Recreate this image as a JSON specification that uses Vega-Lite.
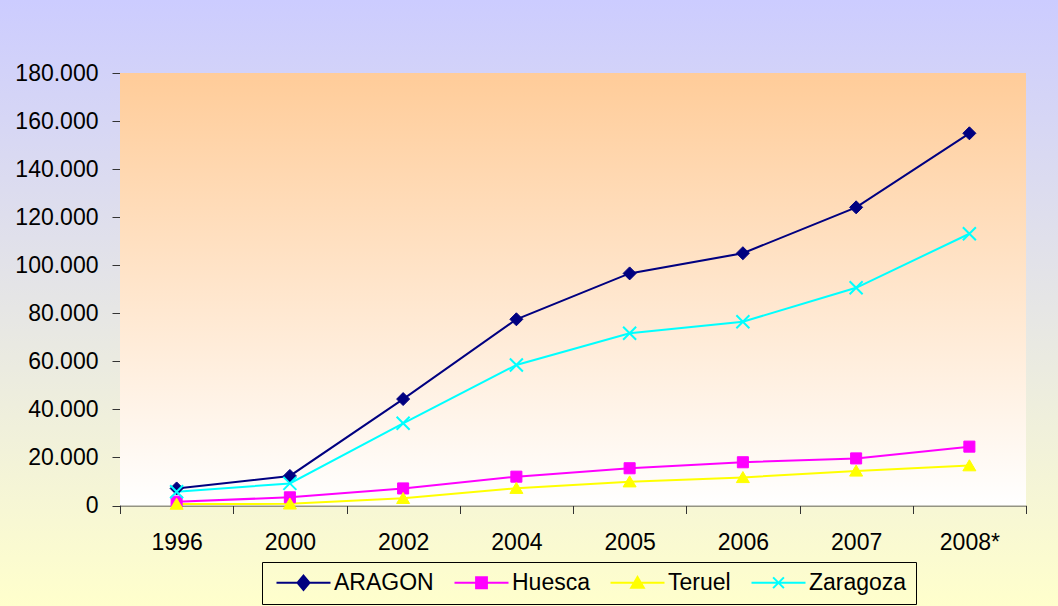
{
  "$schema": "https://vega.github.io/schema/vega-lite/v6.json",
  "width": 1058,
  "height": 606,
  "autosize": {"type": "none"},
  "padding": 0,
  "background": "#E6E6E6",
  "config": {
    "view": {
      "stroke": null,
      "fill": {"gradient": "linear", "x1": 0, "y1": 0, "x2": 0, "y2": 1,
        "stops": [{"offset": 0, "color": "#CCCCFF"}, {"offset": 1, "color": "#FFFFCC"}]}
    },
    "font": "Liberation Sans",
    "legend": {"orient": "none", "legendX": 262, "legendY": 562, "direction": "horizontal", "columns": 4, "title": null,
      "strokeColor": "#000000", "padding": 9, "columnPadding": 15, "labelFontSize": 23, "labelFont": "Liberation Sans",
      "labelColor": "#000000", "symbolSize": 144, "labelOffset": 40, "symbolStrokeWidth": 2, "symbolOpacity": 1, "labelLimit": 0}
  },
  "data": {"values": [
    {"year": "1996", "series": "ARAGON", "value": 7100},
    {"year": "2000", "series": "ARAGON", "value": 12300},
    {"year": "2002", "series": "ARAGON", "value": 44300},
    {"year": "2004", "series": "ARAGON", "value": 77500},
    {"year": "2005", "series": "ARAGON", "value": 96600},
    {"year": "2006", "series": "ARAGON", "value": 105000},
    {"year": "2007", "series": "ARAGON", "value": 124100},
    {"year": "2008*", "series": "ARAGON", "value": 154900},
    {"year": "1996", "series": "Huesca", "value": 1600},
    {"year": "2000", "series": "Huesca", "value": 3400},
    {"year": "2002", "series": "Huesca", "value": 7100},
    {"year": "2004", "series": "Huesca", "value": 12000},
    {"year": "2005", "series": "Huesca", "value": 15500},
    {"year": "2006", "series": "Huesca", "value": 18000},
    {"year": "2007", "series": "Huesca", "value": 19600},
    {"year": "2008*", "series": "Huesca", "value": 24500},
    {"year": "1996", "series": "Teruel", "value": 600},
    {"year": "2000", "series": "Teruel", "value": 700},
    {"year": "2002", "series": "Teruel", "value": 3000},
    {"year": "2004", "series": "Teruel", "value": 7200},
    {"year": "2005", "series": "Teruel", "value": 9900},
    {"year": "2006", "series": "Teruel", "value": 11700},
    {"year": "2007", "series": "Teruel", "value": 14400},
    {"year": "2008*", "series": "Teruel", "value": 16600},
    {"year": "1996", "series": "Zaragoza", "value": 5700},
    {"year": "2000", "series": "Zaragoza", "value": 9200},
    {"year": "2002", "series": "Zaragoza", "value": 34200},
    {"year": "2004", "series": "Zaragoza", "value": 58500},
    {"year": "2005", "series": "Zaragoza", "value": 71700},
    {"year": "2006", "series": "Zaragoza", "value": 76500},
    {"year": "2007", "series": "Zaragoza", "value": 90600},
    {"year": "2008*", "series": "Zaragoza", "value": 113100}
  ]},
  "resolve": {"scale": {"x": "independent"}, "axis": {"x": "independent"}},
  "layer": [
    {
      "data": {"values": [{"area": "plot"}]},
      "mark": {"type": "rect",
        "fill": {"gradient": "linear", "x1": 0, "y1": 0, "x2": 0, "y2": 1,
          "stops": [{"offset": 0, "color": "#FFCC99"}, {"offset": 1, "color": "#FFFFFF"}]}},
      "encoding": {
        "x": {"datum": 0, "type": "quantitative", "scale": {"domain": [0, 1], "range": [120, 1026], "nice": false, "zero": false}, "axis": null},
        "x2": {"datum": 1},
        "y": {"datum": 0, "type": "quantitative",
          "axis": {"title": null, "orient": "left", "offset": -120,
            "values": [0, 20000, 40000, 60000, 80000, 100000, 120000, 140000, 160000, 180000],
            "labelExpr": "replace(format(datum.value, ','), ',', '.')",
            "tickSize": 8, "labelPadding": 14, "labelFontSize": 23, "labelFont": "Liberation Sans", "labelColor": "#000000",
            "domainColor": "#333333", "tickColor": "#333333", "grid": false}},
        "y2": {"datum": 180000}
      }
    },
    {
      "encoding": {
        "x": {"field": "year", "type": "nominal", "sort": null,
          "scale": {"type": "band", "range": [120, 1026], "paddingInner": 0, "paddingOuter": 0},
          "axis": {"title": null, "orient": "bottom", "offset": -100.5, "labelAngle": 0, "tickBand": "extent",
            "tickSize": 8, "labelPadding": 18, "labelFontSize": 23, "labelFont": "Liberation Sans", "labelColor": "#000000",
            "domainColor": "#333333", "tickColor": "#333333", "grid": false}},
        "y": {"field": "value", "type": "quantitative",
          "scale": {"domain": [0, 180000], "range": [505.5, 73], "nice": false},
          "axis": {"title": null, "orient": "left", "offset": -120,
            "values": [0, 20000, 40000, 60000, 80000, 100000, 120000, 140000, 160000, 180000],
            "labelExpr": "replace(format(datum.value, ','), ',', '.')",
            "tickSize": 8, "labelPadding": 14, "labelFontSize": 23, "labelFont": "Liberation Sans", "labelColor": "#000000",
            "domainColor": "#333333", "tickColor": "#333333", "grid": false}}
      },
      "layer": [
        {
          "mark": {"type": "line", "strokeWidth": 2},
          "encoding": {
            "stroke": {"field": "series", "type": "nominal",
              "scale": {"domain": ["ARAGON", "Huesca", "Teruel", "Zaragoza"], "range": ["#000080", "#FF00FF", "#FFFF00", "#00FFFF"]}}
          }
        },
        {
          "transform": [{"filter": "datum.series === 'ARAGON'"}],
          "mark": {"type": "point", "filled": true, "size": 169, "strokeWidth": 1, "opacity": 1, "shape": "M0,-1L1,0L0,1L-1,0Z", "fill": "#000080", "stroke": "#000080"}
        },
        {
          "transform": [{"filter": "datum.series === 'Huesca'"}],
          "mark": {"type": "point", "filled": true, "size": 169, "strokeWidth": 1, "opacity": 1, "shape": "M-0.85,-0.85H0.85V0.85H-0.85Z", "fill": "#FF00FF", "stroke": "#FF00FF"}
        },
        {
          "transform": [{"filter": "datum.series === 'Teruel'"}],
          "mark": {"type": "point", "filled": true, "size": 169, "strokeWidth": 1, "opacity": 1, "shape": "M0,-0.9L1,0.8H-1Z", "fill": "#FFFF00", "stroke": "#FFFF00"}
        },
        {
          "transform": [{"filter": "datum.series === 'Zaragoza'"}],
          "mark": {"type": "point", "filled": false, "size": 169, "strokeWidth": 2, "opacity": 1, "shape": "M-1,-1L1,1M-1,1L1,-1", "fill": "transparent", "stroke": "#00FFFF"}
        },
        {
          "mark": {"type": "point", "filled": true, "size": 144, "opacity": 0},
          "encoding": {
            "fill": {"field": "series", "type": "nominal",
              "scale": {"domain": ["ARAGON", "Huesca", "Teruel", "Zaragoza"], "range": ["#000080", "#FF00FF", "#FFFF00", "#00FFFF"]}},
            "stroke": {"field": "series", "type": "nominal"},
            "shape": {"field": "series", "type": "nominal",
              "scale": {"domain": ["ARAGON", "Huesca", "Teruel", "Zaragoza"],
                "range": ["M-1,0H8M3.5,-1.2L4.5,0L3.5,1.2L2.5,0Z", "M-1,0H8M2.6,-0.9H4.4V0.9H2.6Z", "M-1,0H8M3.5,-0.95L4.55,0.85H2.45Z", "M-1,0H8M2.6,-0.9L4.4,0.9M2.6,0.9L4.4,-0.9"]}}
          }
        }
      ]
    }
  ]
}
